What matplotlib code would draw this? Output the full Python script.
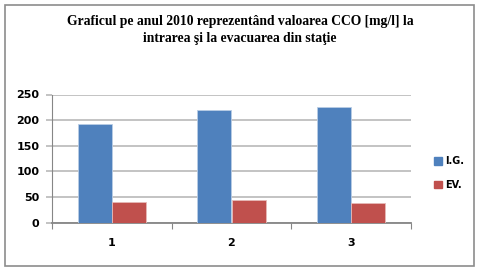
import matplotlib.pyplot as plt
from matplotlib.patches import Rectangle, Patch
import numpy as np

categories = ["1", "2", "3"]
ig_values = [192, 219, 225]
ev_values = [40, 44, 38]
series_names = ["I.G.", "EV."]
y_ticks = [0, 50, 100, 150, 200, 250]
title = "Graficul pe anul 2010 reprezentând valoarea CCO [mg/l] la\nintrarea şi la evacuarea din staţie"

blue = "#4F81BD"
red = "#C0504D"
grid_col = "#BEBEBE"
axis_col = "#868686"

fig = plt.figure(figsize=(4.8, 2.72), dpi=100)

# outer frame of the chart
fig.patches.append(Rectangle((5 / 480, 1 - 266 / 272), 469 / 480, 261 / 272,
                             transform=fig.transFigure, fill=False,
                             edgecolor="#8C8C8C", linewidth=1.2))

ax = fig.add_axes([52 / 480, 1 - 222.7 / 272, 359 / 480, 128.2 / 272])

x = np.arange(len(categories))
w = 1 / 3.5
ax.bar(x - w / 2, ig_values, w, color=blue, edgecolor="#B9CDE5", linewidth=0.6, zorder=3)
ax.bar(x + w / 2, ev_values, w, color=red, edgecolor="#E6B9B8", linewidth=0.6, zorder=3)

ax.set_xlim(-0.5, len(categories) - 0.5)
ax.set_ylim(0, 250)
ax.set_yticks(y_ticks)
ax.set_yticklabels([str(v) for v in y_ticks], fontsize=8, fontweight="bold")
ax.yaxis.grid(True, color=grid_col, linewidth=1.3, zorder=0)
ax.set_axisbelow(True)

ax.set_xticks(np.arange(len(categories) + 1) - 0.5)
ax.set_xticklabels([])
ax.set_xticks(x, minor=True)
ax.set_xticklabels(categories, minor=True, fontsize=8, fontweight="bold")
ax.tick_params(axis="x", which="major", length=4, color=axis_col, direction="out")
ax.tick_params(axis="x", which="minor", length=0, pad=11)
ax.tick_params(axis="y", length=4, color=grid_col, width=1.3, pad=5)

for s in ["top", "right"]:
    ax.spines[s].set_visible(False)
ax.spines["left"].set_color(axis_col)
ax.spines["bottom"].set_color(axis_col)
ax.spines["bottom"].set_linewidth(1.3)

fig.text(0.5, 1 - 30 / 272, title, ha="center", va="center", fontsize=9.8,
         fontweight="bold", family="Liberation Serif", linespacing=1.4)

handles = [Patch(color=blue), Patch(color=red)]
fig.legend(handles, series_names, loc="center left", bbox_to_anchor=(425 / 480, 1 - 173 / 272),
           frameon=False, prop={"size": 7, "weight": "bold"}, handlelength=0.8,
           handleheight=0.8, handletextpad=0.4, labelspacing=1.4)

fig.savefig("out.png", dpi=100)
